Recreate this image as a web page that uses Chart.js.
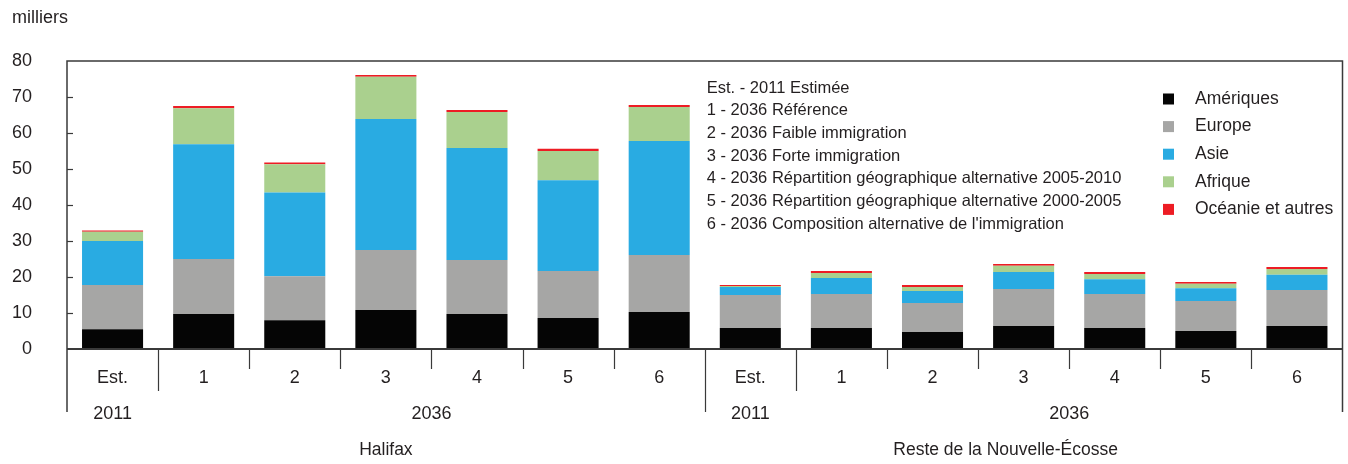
<!DOCTYPE html>
<html><head><meta charset="utf-8">
<script src="https://cdn.jsdelivr.net/npm/chart.js@4.4.1/dist/chart.umd.min.js"></script>
<style>html,body{margin:0;padding:0;background:#fff;}#wrap{width:1348px;height:464px;position:relative;}</style>
</head><body><div id="wrap"><canvas id="c" width="1348" height="464"></canvas></div>
<script>
// ---- data ----
const categories = ['Est.','1','2','3','4','5','6','Est.','1','2','3','4','5','6'];
const ameriques = [5.5, 9.7, 8.0, 10.8, 9.7, 8.6, 10.3, 5.8, 5.8, 4.7, 6.4, 5.8, 5.0, 6.4];
const europe    = [12.3, 15.3, 12.2, 16.7, 15.0, 13.1, 15.8, 9.2, 9.5, 8.1, 10.3, 9.5, 8.3, 10.0];
const asie      = [12.2, 31.9, 23.3, 36.4, 31.1, 25.2, 31.7, 2.2, 4.4, 3.3, 4.7, 4.1, 3.6, 4.2];
const afrique   = [2.6, 10.0, 7.8, 11.7, 10.0, 8.1, 9.4, 0.3, 1.4, 1.1, 1.7, 1.4, 1.2, 1.6];
const oceanie   = [0.3, 0.6, 0.5, 0.5, 0.6, 0.6, 0.6, 0.3, 0.6, 0.6, 0.5, 0.6, 0.5, 0.6];
const seriesNames = ['Amériques','Europe','Asie','Afrique','Océanie et autres'];
const yearLabels = ['2011','2036'];
const regionLabels = ['Halifax','Reste de la Nouvelle-Écosse'];
const yTickValues = [0,10,20,30,40,50,60,70,80];
const yUnitLabel = 'milliers';
const notes = [
  'Est. - 2011 Estimée',
  '1 - 2036 Référence',
  '2 - 2036 Faible immigration',
  '3 - 2036 Forte immigration',
  '4 - 2036 Répartition géographique alternative 2005-2010',
  '5 - 2036 Répartition géographique alternative 2000-2005',
  '6 - 2036 Composition alternative de l\'immigration'
];

const colors = ['#050505','#a6a6a5','#29abe2','#aad08e','#ed1c24'];
const FONT = '"Liberation Sans",Arial,sans-serif';
const TXT = '#231f20';
const LINE = '#3a3a3a';

const seriesData = [ameriques, europe, asie, afrique, oceanie];

const deco = {
  id: 'deco',
  afterDraw(chart) {
    const ctx = chart.ctx, x = chart.scales.x, y = chart.scales.y, a = chart.chartArea;
    const L = a.left, R = a.right, T = a.top, B = y.getPixelForValue(0);
    const px = i => x.getPixelForValue(i);
    const half = (px(1) - px(0)) / 2;
    ctx.save();
    // frame
    ctx.strokeStyle = LINE; ctx.lineWidth = 1.5;
    ctx.beginPath();
    ctx.moveTo(L, 412); ctx.lineTo(L, T); ctx.lineTo(R, T); ctx.lineTo(R, 412);
    ctx.stroke();
    // zero axis
    ctx.lineWidth = 2;
    ctx.beginPath(); ctx.moveTo(L, B); ctx.lineTo(R, B); ctx.stroke();
    // y ticks inside
    ctx.lineWidth = 1.2;
    yTickValues.forEach(v => {
      if (v === 0 || v === 80) return;
      const yy = Math.round(y.getPixelForValue(v)) + 0.5;
      ctx.beginPath(); ctx.moveTo(L, yy); ctx.lineTo(L + 6, yy); ctx.stroke();
    });
    // x dividers
    for (let i = 0; i < categories.length - 1; i++) {
      const xx = Math.round(px(i) + half) + 0.5;
      let end = 369;
      if (i === 6) end = 412;
      else if (i === 0 || i === 7) end = 391;
      ctx.beginPath(); ctx.moveTo(xx, B); ctx.lineTo(xx, end); ctx.stroke();
    }
    // category labels
    ctx.fillStyle = TXT; ctx.textAlign = 'center'; ctx.textBaseline = 'middle';
    ctx.font = '18px ' + FONT;
    categories.forEach((c, i) => ctx.fillText(c, px(i), 378));
    // year labels
    ctx.fillText(yearLabels[0], px(0), 414);
    ctx.fillText(yearLabels[1], (px(1) + px(6)) / 2, 414);
    ctx.fillText(yearLabels[0], px(7), 414);
    ctx.fillText(yearLabels[1], (px(8) + px(13)) / 2, 414);
    // region labels
    ctx.font = '17.5px ' + FONT;
    ctx.fillText(regionLabels[0], px(3), 450);
    ctx.fillText(regionLabels[1], px(10) - 18, 450);
    // unit label
    ctx.textAlign = 'left';
    ctx.font = '18px ' + FONT;
    ctx.fillText(yUnitLabel, 12, 18);
    // notes
    ctx.font = '16.5px ' + FONT;
    notes.forEach((n, i) => ctx.fillText(n, px(7) - half + 2, 88 + i * 22.7));
    // legend
    ctx.font = '17.5px ' + FONT;
    seriesNames.forEach((s, i) => {
      const yy = 99 + i * 27.6;
      ctx.fillStyle = colors[i];
      ctx.fillRect(1163, yy - 5.5, 11, 11);
      ctx.fillStyle = TXT;
      ctx.fillText(s, 1195, yy);
    });
    ctx.restore();
  }
};

new Chart(document.getElementById('c'), {
  type: 'bar',
  data: {
    labels: categories,
    datasets: seriesData.map((d, i) => ({
      label: seriesNames[i], data: d, backgroundColor: colors[i],
      borderWidth: 0, barPercentage: 0.67, categoryPercentage: 1
    }))
  },
  options: {
    responsive: false, animation: false,
    layout: { padding: { left: 0, right: 5.5, top: 61, bottom: 0 } },
    plugins: { legend: { display: false }, tooltip: { enabled: false } },
    scales: {
      x: { stacked: true, grid: { display: false }, border: { display: false },
           ticks: { display: false }, afterFit(s) { s.height = 115; } },
      y: { stacked: true, min: 0, max: 80,
           afterBuildTicks(s) { s.ticks = yTickValues.map(v => ({ value: v })); },
           ticks: { padding: 35, color: TXT, font: { family: FONT, size: 18 } },
           grid: { display: false, drawTicks: false }, border: { display: false },
           afterFit(s) { s.width = 67; } }
    }
  },
  plugins: [deco]
});
</script></body></html>
